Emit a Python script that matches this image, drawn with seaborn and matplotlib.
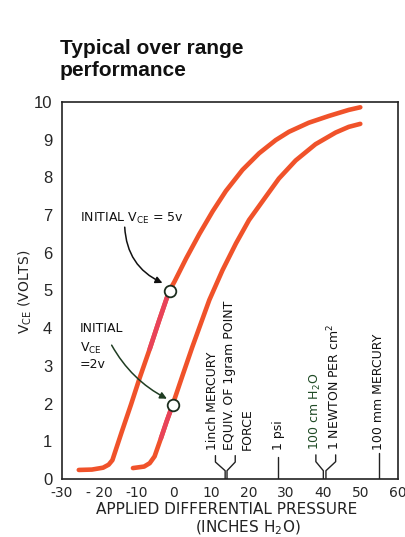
import matplotlib
matplotlib.use("Agg")
import matplotlib.pyplot as plt
import seaborn as sns
import pandas as pd

# ---------------- data ----------------
x_5v = [-25.5, -22, -19, -17.5, -16.5, -14, -11.5, -9.2, -6.5, -4, -2, -1.2,
        0.1, 3.25, 6.8, 10.35, 13.9, 18.35, 22.8, 27.25, 30.8, 36.1, 41.5,
        46.8, 49.9]
y_5v = [0.24, 0.25, 0.3, 0.38, 0.5, 1.25, 1.98, 2.68, 3.45, 4.2, 4.78, 5.0,
        5.23, 5.85, 6.5, 7.1, 7.64, 8.2, 8.64, 8.99, 9.21, 9.45, 9.63,
        9.79, 9.86]
x_2v = [-11, -8, -6.5, -5.2, -3.5, -2, -0.4, 2.3, 4.9, 9.47, 13.0, 16.6,
        20.1, 24.6, 28.1, 32.6, 37.9, 43.3, 46.8, 49.9]
y_2v = [0.29, 0.33, 0.42, 0.6, 1.08, 1.52, 1.96, 2.75, 3.5, 4.75, 5.54, 6.25,
        6.87, 7.49, 7.97, 8.45, 8.88, 9.19, 9.34, 9.42]
circle_x = [-1.2, -0.4]
circle_y = [5.0, 1.96]

xticks = [-30, -20, -10, 0, 10, 20, 30, 40, 50, 60]
xtick_labels = ["-30", "- 20", "-10", "0", "10", "20", "30", "40", "50", "60"]
yticks = list(range(0, 11))

ref_labels = ["1inch MERCURY", "EQUIV. OF 1gram POINT", "FORCE", "1 psi",
              "100 cm H$_2$O", "1 NEWTON PER cm$^2$", "100 mm MERCURY"]
ref_label_x = [10.3, 14.8, 19.6, 28.1, 38.0, 42.9, 54.7]
ref_label_color = ["#111", "#111", "#111", "#111", "#1f4a25", "#111", "#111"]

# bracket / marker lines (x, y lists)
bracket_left_x = [11.1, 11.1, 13.7, 13.7]
bracket_left_y = [0.62, 0.45, 0.22, 0.0]
bracket_left2_x = [16.4, 16.4, 14.2, 14.2]
bracket_right_x = [38.0, 38.0, 40.0, 40.0]
bracket_right_y = [0.64, 0.46, 0.22, 0.0]
bracket_right2_x = [43.3, 43.3, 40.7, 40.7]
tall_tick_x = [27.9, 54.8]
tall_tick_top = [0.58, 0.69]

# ---------------- figure ----------------
W, H = 406, 537
sns.set_style("white")
plt.rcParams['font.family'] = ['DejaVu Sans']
fig = plt.figure(figsize=(W / 100, H / 100), dpi=100)


def fx(px):
    return px / W


def fy(py):
    return 1 - py / H


ax = fig.add_axes([fx(62), fy(479), fx(398) - fx(62), fy(102) - fy(479)])

curve_color = "#f0522a"
pink = "#e8435a"
df = pd.concat([
    pd.DataFrame({"x": x_5v, "y": y_5v, "s": "5v"}),
    pd.DataFrame({"x": x_2v, "y": y_2v, "s": "2v"}),
])
sns.lineplot(data=df, x="x", y="y", hue="s", units="s", estimator=None,
             sort=False, palette={"5v": curve_color, "2v": curve_color},
             lw=3.3, legend=False, ax=ax, solid_capstyle="round",
             solid_joinstyle="round")
# pinkish segments just below the circles
sns.lineplot(x=x_5v[8:12], y=y_5v[8:12], color=pink, lw=3.3,
             sort=False, ax=ax, solid_capstyle="round")
sns.lineplot(x=x_2v[4:7], y=y_2v[4:7], color=pink, lw=3.3,
             sort=False, ax=ax, solid_capstyle="round")

sns.scatterplot(x=circle_x, y=circle_y, s=70, marker="o", facecolor="white",
                edgecolor="#1c2d1e", linewidth=1.3, ax=ax, zorder=5)

# bracket markers
lc = "#222222"
for bx, by in [(bracket_left_x, bracket_left_y), (bracket_left2_x, bracket_left_y),
               (bracket_right_x, bracket_right_y), (bracket_right2_x, bracket_right_y)]:
    ax.plot(bx, by, color=lc, lw=1.0)
for tx, tt in zip(tall_tick_x, tall_tick_top):
    ax.plot([tx, tx], [0, tt], color=lc, lw=1.0)

for lab, lx, col in zip(ref_labels, ref_label_x, ref_label_color):
    ax.text(lx, 0.77, lab, rotation=90, ha="center", va="bottom",
            fontsize=9, color=col)

# annotations
ax.text(-25.2, 6.82, "INITIAL V$_{\\mathrm{CE}}$ = 5v", fontsize=9, color="#111",
        ha="left", va="baseline")
ax.text(-25.2, 3.9, "INITIAL", fontsize=9, color="#111", ha="left", va="baseline")
ax.text(-25.2, 3.38, "V$_{\\mathrm{CE}}$", fontsize=9, color="#111", ha="left", va="baseline")
ax.text(-25.2, 2.94, "=2v", fontsize=9, color="#111", ha="left", va="baseline")

ax.annotate("", xy=(-3.1, 5.2), xytext=(-13.2, 6.68),
            arrowprops=dict(arrowstyle="-|>", color="#111", lw=1.1,
                            mutation_scale=10,
                            connectionstyle="arc3,rad=0.3",
                            shrinkA=0, shrinkB=0))
ax.annotate("", xy=(-1.9, 2.13), xytext=(-16.7, 3.55),
            arrowprops=dict(arrowstyle="-|>", color="#1f3d22", lw=1.1,
                            mutation_scale=10,
                            connectionstyle="arc3,rad=0.15",
                            shrinkA=0, shrinkB=0))

# axes styling
ax.set_xlim(-30, 60)
ax.set_ylim(0, 10)
ax.set_xticks(xticks)
ax.set_xticklabels(xtick_labels, fontsize=10)
ax.set_yticks(yticks)
ax.set_yticklabels([str(v) for v in yticks], fontsize=12,
                   fontfamily="Liberation Sans")
ax.tick_params(axis="x", direction="in", length=7, width=1, pad=5, color="#222")
ax.tick_params(axis="y", direction="in", length=8, width=1, pad=7, color="#222")
ax.set_xlabel("")
ax.set_ylabel("")
for sp in ax.spines.values():
    sp.set_color("#222")
    sp.set_linewidth(1.2)

# labels
fig.text(fx(227), fy(510), "APPLIED DIFFERENTIAL PRESSURE", ha="center",
         va="center", fontsize=11, color="#222")
fig.text(fx(248), fy(528), "(INCHES H$_2$O)", ha="center", va="center",
         fontsize=11, color="#222")
fig.text(fx(25), fy(292), "V$_{\\mathrm{CE}}$ (VOLTS)", rotation=90, ha="center",
         va="center", fontsize=10, color="#222")

fig.text(fx(60), fy(54), "Typical over range", fontsize=15, fontweight="bold",
         fontfamily="Liberation Sans", ha="left", va="baseline", color="#111")
fig.text(fx(60), fy(76), "performance", fontsize=15, fontweight="bold",
         fontfamily="Liberation Sans", ha="left", va="baseline", color="#111")

fig.savefig("out.png", dpi=100)
